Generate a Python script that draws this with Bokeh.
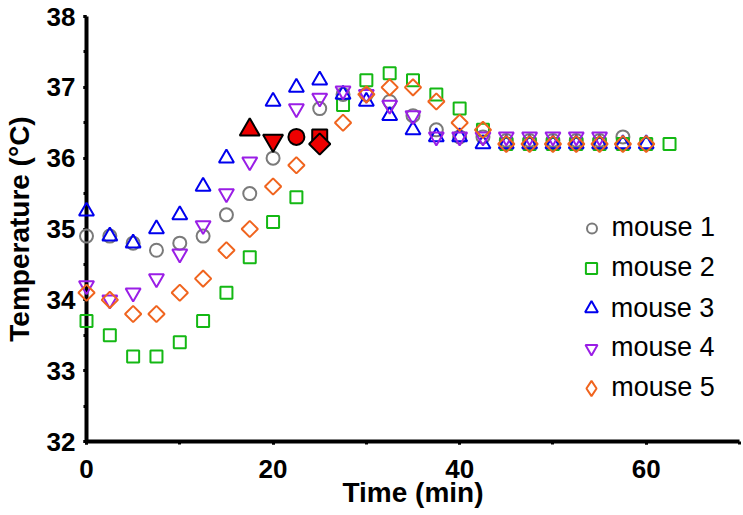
import numpy as np
from bokeh.plotting import figure
from bokeh.models import Range1d, SingleIntervalTicker, Legend, LegendItem
from bokeh.embed import file_html
from bokeh.resources import INLINE

# ---- data ----
labels = ["mouse 1", "mouse 2", "mouse 3", "mouse 4", "mouse 5"]

time_m1 = [0, 2.5, 5, 7.5, 10, 12.5, 15, 17.5, 20, 25, 27.5, 30, 32.5, 35, 37.5, 40, 42.5,
           45, 47.5, 50, 52.5, 55, 57.5]
temp_m1 = [34.9, 34.9, 34.8, 34.7, 34.8, 34.9, 35.2, 35.5, 36.0, 36.7, 36.9, 36.9, 36.8, 36.6,
           36.4, 36.3, 36.3, 36.25, 36.25, 36.25, 36.25, 36.25, 36.3]

time_m2 = [0, 2.5, 5, 7.5, 10, 12.5, 15, 17.5, 20, 22.5, 27.5, 30, 32.5, 35, 37.5, 40, 42.5,
           45, 47.5, 50, 52.5, 55, 57.5, 60, 62.5]
temp_m2 = [33.7, 33.5, 33.2, 33.2, 33.4, 33.7, 34.1, 34.6, 35.1, 35.45, 36.75, 37.1, 37.2, 37.1,
           36.9, 36.7, 36.4, 36.2, 36.2, 36.2, 36.2, 36.2, 36.2, 36.2, 36.2]

time_m3 = [0, 2.5, 5, 7.5, 10, 12.5, 15, 20, 22.5, 25, 27.5, 30, 32.5, 35, 37.5, 40, 42.5,
           45, 47.5, 50, 52.5, 55, 57.5, 60]
temp_m3 = [35.25, 34.9, 34.8, 35.0, 35.2, 35.6, 36.0, 36.8, 37.0, 37.1, 36.9, 36.8, 36.6, 36.4,
           36.3, 36.3, 36.2, 36.2, 36.2, 36.2, 36.2, 36.2, 36.2, 36.2]

time_m4 = [0, 2.5, 5, 7.5, 10, 12.5, 15, 17.5, 22.5, 25, 27.5, 30, 32.5, 35, 37.5, 40, 42.5,
           45, 47.5, 50, 52.5, 55]
temp_m4 = [34.2, 34.0, 34.1, 34.3, 34.65, 35.05, 35.5, 35.95, 36.7, 36.85, 36.95, 36.9, 36.75,
           36.6, 36.3, 36.3, 36.3, 36.3, 36.3, 36.3, 36.3, 36.3]

time_m5 = [0, 2.5, 5, 7.5, 10, 12.5, 15, 17.5, 20, 22.5, 27.5, 30, 32.5, 35, 37.5, 40, 42.5,
           45, 47.5, 50, 52.5, 55, 57.5, 60]
temp_m5 = [34.1, 34.0, 33.8, 33.8, 34.1, 34.3, 34.7, 35.0, 35.6, 35.9, 36.5, 36.9, 37.0, 37.0,
           36.8, 36.5, 36.4, 36.2, 36.2, 36.2, 36.2, 36.2, 36.2, 36.2]

# highlighted (filled red) points
red_time = [17.5, 20, 22.5, 25, 25]
red_temp = [36.4, 36.25, 36.3, 36.3, 36.2]
red_shape = ["triangle", "inverted_triangle", "circle", "square", "diamond"]

x_title = "Time (min)"
y_title = "Temperature (°C)"

# ---- styles ----
colors = ["#7a7a7a", "#14b814", "#0000ee", "#9a1ee6", "#f0641e"]
shapes = ["circle", "square", "triangle", "inverted_triangle", "diamond"]
sizes = {"circle": 13, "square": 12, "triangle": 15, "inverted_triangle": 15, "diamond": 11.5}
red_sizes = {"circle": 16, "square": 15, "triangle": 20, "inverted_triangle": 20, "diamond": 15}
legend_marker_size = {"circle": 10, "square": 11, "triangle": 13, "inverted_triangle": 12,
                      "diamond": 15}

FONT = "Liberation Sans"

W, H = 741, 513
FL, FR, FT, FB = 85, 739, 16, 441  # frame edges in page pixels

p = figure(width=W, height=H, x_range=Range1d(0, 70), y_range=Range1d(32, 38),
           output_backend="svg", toolbar_location=None,
           min_border_left=FL, min_border_right=W - FR, min_border_top=FT,
           min_border_bottom=H - FB)
p.outline_line_color = None
p.xgrid.grid_line_color = None
p.ygrid.grid_line_color = None
p.background_fill_color = "white"
p.border_fill_color = "white"

p.xaxis.ticker = SingleIntervalTicker(interval=20, num_minor_ticks=2)
p.yaxis.ticker = SingleIntervalTicker(interval=1, num_minor_ticks=2)
for ax in (p.xaxis, p.yaxis):
    ax.axis_line_width = 4
    ax.axis_line_color = "black"
    ax.major_tick_line_width = 3
    ax.major_tick_out = 3
    ax.major_tick_in = 0
    ax.minor_tick_line_width = 3
    ax.minor_tick_out = 3
    ax.minor_tick_in = 0
    ax.major_label_text_font = FONT
    ax.major_label_text_font_style = "bold"
    ax.major_label_text_font_size = "26px"
    ax.major_label_text_color = "black"
    ax.axis_label_text_font = FONT
    ax.axis_label_text_font_style = "bold"
    ax.axis_label_text_font_size = "28px"
    ax.axis_label_text_color = "black"

p.xaxis.axis_label = x_title
p.yaxis.axis_label = y_title
p.xaxis.major_label_standoff = 15
p.xaxis.axis_label_standoff = -4
p.yaxis.major_label_standoff = 8
p.yaxis.axis_label_standoff = 9

series = [(time_m1, temp_m1), (time_m2, temp_m2), (time_m3, temp_m3),
          (time_m4, temp_m4), (time_m5, temp_m5)]
renderers = []
for (t, v), c, shp in zip(series, colors, shapes):
    marker = "square" if shp == "diamond" else shp
    angle = np.pi / 4 if shp == "diamond" else 0
    r = p.scatter(x=t, y=v, marker=marker, angle=angle, size=sizes[shp],
                  line_color=c, line_width=2, fill_color=None)
    r.level = "annotation"
    renderers.append(r)

for t, v, shp in zip(red_time, red_temp, red_shape):
    marker = "square" if shp == "diamond" else shp
    angle = np.pi / 4 if shp == "diamond" else 0
    r = p.scatter(x=[t], y=[v], marker=marker, angle=angle, size=red_sizes[shp],
                  line_color="black", line_width=2, fill_color="#ee0000")
    r.level = "annotation"

# legend: one entry per legend so each key can have its own size
row0, pitch = 228, 40          # centre of first row / row pitch (page px)
key_cx, text_x = 590, 610       # key centre / text start (page px)
for i, (lab, r, c, shp) in enumerate(zip(labels, renderers, colors, shapes)):
    key = r
    if shp == "diamond":
        # legend-only key (the rotated square of the plot is not rotated in legends)
        key = p.scatter(x=[float("nan")], y=[float("nan")], marker="diamond",
                        line_color=c, line_width=2, fill_color=None)
    gw = legend_marker_size[shp] / 0.4
    gh = max(gw, 30)
    cy = row0 + i * pitch
    leg = Legend(items=[LegendItem(label=lab, renderers=[key])],
                 location=(key_cx - gw / 2 - FL, FB - (cy + gh / 2)),
                 glyph_width=int(round(gw)), glyph_height=int(round(gh)),
                 label_height=int(round(gh)), spacing=0, padding=0, margin=0,
                 label_standoff=int(round(text_x - (key_cx + gw / 2))),
                 border_line_color=None, background_fill_alpha=0,
                 label_text_font=FONT, label_text_font_size="27px",
                 label_text_color="black")
    p.add_layout(leg)

open("out.html", "w").write(file_html(p, INLINE))
